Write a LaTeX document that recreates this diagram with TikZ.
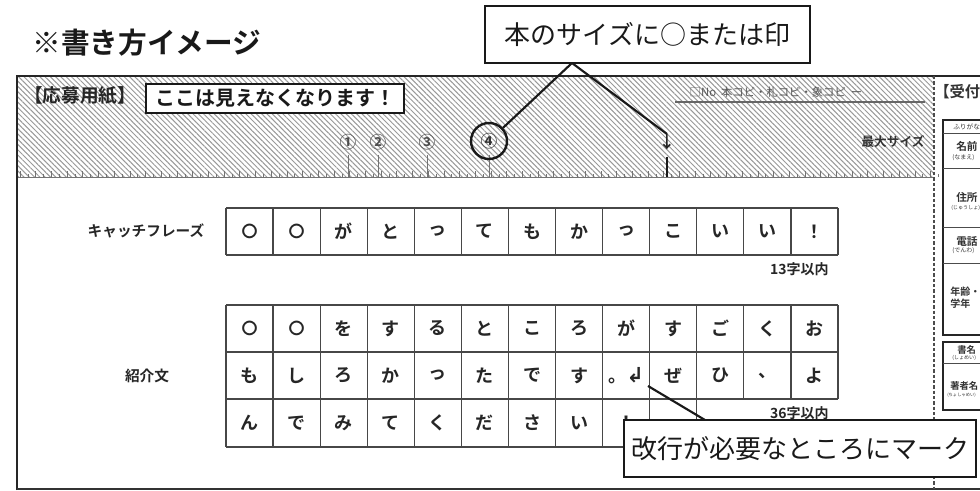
\documentclass[tikz,border=0pt]{standalone}
\usepackage{fontspec}
\setmainfont{Noto Sans CJK JP}[BoldFont={* Bold}]
\newfontfamily\dejavu{DejaVu Sans}
\usetikzlibrary{patterns.meta}
\newcommand{\bigzero}{{\fontsize{12}{12}\selectfont 〇}}
\begin{document}
\begin{tikzpicture}[x=0.75pt,y=-0.75pt,
  frame/.style={line width=1.5pt, draw=black!85},
  gridline/.style={line width=0.9pt, draw=black!72},
  ch/.style={font=\bfseries\fontsize{13.5}{14}\selectfont, text=black!85, inner sep=0pt},
  callbox/.style={draw=black!90, line width=1.6pt, fill=white, inner sep=0pt, font=\fontsize{19.5}{20}\selectfont, text=black!90},
  callline/.style={line width=1.6pt, draw=black!90},
  lbl/.style={font=\bfseries\fontsize{11}{12}\selectfont, text=black!85},
  limit/.style={font=\bfseries\fontsize{10.5}{11}\selectfont, text=black!85, inner sep=0pt},
  num/.style={font=\bfseries\fontsize{12.5}{13}\selectfont, text=black!70, inner sep=0pt},
  tick/.style={draw=black!55, line width=0.5pt},
  rtext/.style={anchor=west, inner sep=0pt, text=black!80},
  tbl/.style={line width=1.5pt, draw=black!85},
  tblthin/.style={line width=0.6pt, draw=black!70}
]
\useasboundingbox (0,0) rectangle (980,491);
\clip (0,0) rectangle (980,491);
\fill[white] (0,0) rectangle (980,491);

% title
\node[font=\bfseries\fontsize{21.5}{22}\selectfont, text=black!90] (title) at (147,43) {※書き方イメージ};

% hatched band
\fill[pattern={Lines[angle=-45,distance=2.8pt,line width=0.75pt]}, pattern color=black!40] (17,76) rectangle (934,177);
\draw[black!55, line width=0.6pt] (17,177) -- (934,177);
% ruler ticks
\foreach \i in {0,...,58} {
  \draw[tick] ({20+15.7*\i},177) -- ({20+15.7*\i},171);
  \draw[tick] ({27.85+15.7*\i},177) -- ({27.85+15.7*\i},174);
}
\foreach \xx in {348,378,427,489} \draw[tick] (\xx,155) -- (\xx,177);
\draw[line width=2.2pt, black!90] (667,157) -- (667,177);

% frame
\draw[frame] (17,490) -- (17,76) -- (980,76);
\draw[line width=1.2pt, black!80] (17,489) -- (980,489);
\draw[black!70, line width=0.8pt, dash pattern=on 2.5pt off 1.5pt] (934,76) -- (934,489);

% band contents
\node[font=\bfseries\fontsize{14}{15}\selectfont, text=black!85] (oubo) at (80,96) {【応募用紙】};
\node[draw=black!90, line width=1.2pt, fill=white, inner sep=0pt, minimum width=193.5pt, minimum height=21.75pt,
      font=\bfseries\fontsize{15}{16}\selectfont, text=black!90] (mienai) at (275,98.5) {ここは見えなくなります！};
\node[font=\fontsize{8.5}{9}\selectfont, text=black!65] (copy) at (776,92) {□No\ \ 本コピ・札コピ・象コピ\ \ ー};
\draw[black!60, line width=0.8pt] (675,102) -- (925,102);
\node[num] (n1) at (348,142) {①};
\node[num] (n2) at (378,142) {②};
\node[num] (n3) at (427,142) {③};
\node[num, circle, draw=black!90, line width=1.8pt, minimum size=27pt, text=black!80] (n4) at (489,141) {④};
\node[num, text=black!85] (arr) at (667,142) {↓};
\node[font=\bfseries\fontsize{9.5}{10}\selectfont, text=black!80] (maxsize) at (893,142) {最大サイズ};

% top callout
\node[callbox, minimum width=243.75pt, minimum height=42.75pt] (call1) at (647.5,34.5) {本のサイズに○または印};
\coordinate (k1) at (572,63);
\draw[callline] (k1) -- (n4);
\draw[callline] (k1) -- (arr.north);

% catch phrase grid
\node[lbl] (catch) at (146,231) {キャッチフレーズ};
\draw[gridline] (226,208) -- (838,208);
\draw[gridline] (226,255) -- (838,255);
\foreach \i in {0,...,13} \draw[gridline] ({226+47.08*\i},208) -- ({226+47.08*\i},255);
\foreach \c [count=\i] in {\bigzero,\bigzero,が,と,っ,て,も,か,っ,こ,い,い,！}
  \node[ch] (a\i) at ({226+47.08*(\i-0.5)},231.5) {\c};
\node[limit, anchor=east] (lim13) at (829,269) {13字以内};

% introduction grid
\node[lbl] (intro) at (147,376) {紹介文};
\draw[gridline] (226,305) -- (838,305);
\draw[gridline] (226,352) -- (838,352);
\draw[gridline] (226,399) -- (838,399);
\draw[gridline] (226,447) -- (697,447);
\foreach \i in {0,...,13} \draw[gridline] ({226+47.08*\i},305) -- ({226+47.08*\i},399);
\foreach \i in {0,...,10} \draw[gridline] ({226+47.08*\i},399) -- ({226+47.08*\i},447);
\foreach \c [count=\i] in {\bigzero,\bigzero,を,す,る,と,こ,ろ,が,す,ご,く,お}
  \node[ch] (b\i) at ({226+47.08*(\i-0.5)},328.5) {\c};
\foreach \c [count=\i] in {も,し,ろ,か,っ,た,で,す,{。{\dejavu\bfseries\fontsize{15.5}{16}\selectfont ↲}},ぜ,ひ,、,よ}
  \node[ch] (c\i) at ({226+47.08*(\i-0.5)},375.5) {\c};
\foreach \c [count=\i] in {ん,で,み,て,く,だ,さ,い,！}
  \node[ch] (d\i) at ({226+47.08*(\i-0.5)},423) {\c};
\node[limit, anchor=east] (lim36) at (829,413) {36字以内};

% bottom callout
\node[callbox, minimum width=264pt, minimum height=42.75pt] (call2) at (800,448.5) {改行が必要なところにマーク};
\coordinate (k2) at (705,420);
\coordinate (mark) at (648,386);
\draw[callline] (k2) -- (mark);

% right panel
\node[rtext, font=\bfseries\fontsize{11.5}{12}\selectfont] (uke) at (934,92) {【受付};
\draw[tbl] (995,120) -- (943,120) -- (943,335) -- (995,335);
\foreach \yy in {133,168,227,263} \draw[tblthin] (943,\yy) -- (995,\yy);
\draw[tbl] (995,342) -- (943,342) -- (943,410) -- (995,410);
\draw[tblthin] (943,363) -- (995,363);
\node[rtext, font=\fontsize{5}{6}\selectfont] (furi) at (953,126.5) {ふりがな};
\node[rtext, font=\bfseries\fontsize{8}{9}\selectfont] (namae) at (956,146) {名前};
\node[rtext, font=\fontsize{4.5}{5}\selectfont] (namae2) at (952,158) {(なまえ)};
\node[rtext, font=\bfseries\fontsize{8}{9}\selectfont] (jusho) at (956,197) {住所};
\node[rtext, font=\fontsize{3.8}{5}\selectfont] (jusho2) at (951,208) {(じゅうしょ)};
\node[rtext, font=\bfseries\fontsize{8}{9}\selectfont] (denwa) at (956,242) {電話};
\node[rtext, font=\fontsize{4.5}{5}\selectfont] (denwa2) at (952,251) {(でんわ)};
\node[rtext, font=\bfseries\fontsize{7.5}{9}\selectfont] (nenrei) at (950,292) {年齢・};
\node[rtext, font=\bfseries\fontsize{7.5}{9}\selectfont] (gakunen) at (950,304) {学年};
\node[rtext, font=\bfseries\fontsize{7}{8}\selectfont] (shomei) at (957,350) {書名};
\node[rtext, font=\fontsize{3.8}{5}\selectfont] (shomei2) at (952,358) {(しょめい)};
\node[rtext, font=\bfseries\fontsize{7}{8}\selectfont] (chosha) at (950,386) {著者名};
\node[rtext, font=\fontsize{3.2}{5}\selectfont] (chosha2) at (947,395) {(ちょしゃめい)};
\end{tikzpicture}
\end{document}
